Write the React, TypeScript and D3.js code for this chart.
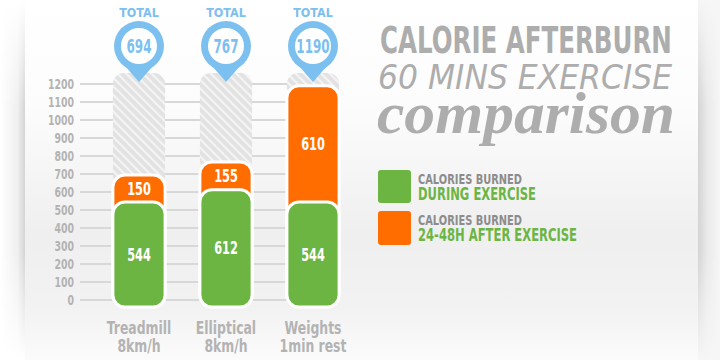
import React from "react";
import * as d3 from "d3";

const categories = ["Treadmill", "Elliptical", "Weights"];
const categorySub = ["8km/h", "8km/h", "1min rest"];
const duringValues = [544, 612, 544];
const afterValues = [150, 155, 610];
const totalValues = [694, 767, 1190];
const yTicks = [0, 100, 200, 300, 400, 500, 600, 700, 800, 900, 1000, 1100, 1200];

const BOLD_FONT = "'DejaVu Sans', sans-serif";
const GREEN = "#6cb543";
const ORANGE = "#ff6d00";
const BLUE = "#7cc0f0";
const GRAY_TXT = "#b3b3b3";

function roundedRect(x: number, y: number, w: number, h: number, r: number) {
  const p = d3.path();
  p.moveTo(x + r, y);
  p.lineTo(x + w - r, y);
  p.arcTo(x + w, y, x + w, y + r, r);
  p.lineTo(x + w, y + h - r);
  p.arcTo(x + w, y + h, x + w - r, y + h, r);
  p.lineTo(x + r, y + h);
  p.arcTo(x, y + h, x, y + h - r, r);
  p.lineTo(x, y + r);
  p.arcTo(x, y, x + r, y, r);
  p.closePath();
  return p.toString();
}

type NProps = {
  x: number;
  y: number;
  size: number;
  fill: string;
  anchor?: "start" | "middle" | "end";
  sx?: number;
  children: React.ReactNode;
};

function NText({ x, y, size, fill, anchor = "middle", sx = 0.66, children }: NProps) {
  return (
    <g transform={`translate(${x},${y}) scale(${sx},1)`}>
      <text
        x={0}
        y={0}
        textAnchor={anchor}
        fontFamily={BOLD_FONT}
        fontWeight="bold"
        fontSize={size}
        fill={fill}
      >
        {children}
      </text>
    </g>
  );
}

export default function App() {
  const W = 720;
  const H = 360;
  const y = d3.scaleLinear().domain([0, 1200]).range([300, 84]);
  const x = d3
    .scaleBand<string>()
    .domain(categories)
    .range([95.5, 356.5])
    .paddingInner(0.4)
    .paddingOuter(0.2);
  const bw = x.bandwidth();
  const barBottom = y(0) + 7;
  const hatchTop = y(1200) - 11;

  return (
    <svg
      width={W}
      height={H}
      viewBox={`0 0 ${W} ${H}`}
      style={{ position: "absolute", left: 0, top: 0, display: "block" }}
    >
      <defs>
        <linearGradient id="panelBg" x1="0" y1="0" x2="0" y2="1">
          <stop offset="0" stopColor="#ffffff" />
          <stop offset="0.3" stopColor="#fcfcfc" />
          <stop offset="0.65" stopColor="#efefef" />
          <stop offset="0.85" stopColor="#f2f2f2" />
          <stop offset="1" stopColor="#fbfbfb" />
        </linearGradient>
        <linearGradient id="leftShadow" x1="0" y1="0" x2="1" y2="0">
          <stop offset="0" stopColor="#000" stopOpacity="0" />
          <stop offset="0.7" stopColor="#000" stopOpacity="0.06" />
          <stop offset="1" stopColor="#000" stopOpacity="0.17" />
        </linearGradient>
        <linearGradient id="rightShadow" x1="0" y1="0" x2="1" y2="0">
          <stop offset="0" stopColor="#000" stopOpacity="0.14" />
          <stop offset="0.4" stopColor="#000" stopOpacity="0.05" />
          <stop offset="1" stopColor="#000" stopOpacity="0" />
        </linearGradient>
        <linearGradient id="vFade" x1="0" y1="0" x2="0" y2="1">
          <stop offset="0" stopColor="#fff" stopOpacity="0" />
          <stop offset="0.3" stopColor="#fff" stopOpacity="1" />
          <stop offset="0.7" stopColor="#fff" stopOpacity="1" />
          <stop offset="1" stopColor="#fff" stopOpacity="0" />
        </linearGradient>
        <mask id="fadeMask" maskUnits="userSpaceOnUse" x="0" y="0" width={W} height={H}>
          <rect x="0" y="0" width={W} height={H} fill="url(#vFade)" />
        </mask>
        <pattern
          id="hatch"
          patternUnits="userSpaceOnUse"
          width="6"
          height="6"
          patternTransform="rotate(-45)"
        >
          <rect x="0" y="0" width="6" height="6" fill="#e2e2e2" />
          <rect x="0" y="0" width="2.2" height="6" fill="#f4f4f4" />
        </pattern>
      </defs>

      {/* background */}
      <rect x="0" y="0" width={W} height={H} fill="#ffffff" />
      <rect x="698" y="0" width="22" height={H} fill="#f6f6f6" />
      <g mask="url(#fadeMask)">
        <rect x="0" y="0" width="25" height={H} fill="url(#leftShadow)" />
        <rect x="698" y="0" width="22" height={H} fill="url(#rightShadow)" />
      </g>
      <rect x="25" y="0" width="673" height={H} fill="url(#panelBg)" />

      {/* gridlines */}
      {yTicks.map((t) => (
        <line
          key={"g" + t}
          x1={80}
          x2={(x(categories[2]) as number) + bw / 2}
          y1={y(t)}
          y2={y(t)}
          stroke="#d8d8d8"
          strokeWidth={2}
        />
      ))}
      {yTicks.map((t) => (
        <NText key={"t" + t} x={74} y={y(t) + 5} size={14} fill={GRAY_TXT} anchor="end" sx={0.67}>
          {t}
        </NText>
      ))}

      {categories.map((c, i) => {
        const x0 = x(c) as number;
        const cx = x0 + bw / 2;
        const yTot = y(totalValues[i]);
        const yDur = y(duringValues[i]);
        const pinCy = 46;
        const pinR = 25;
        const tipY = 82;
        return (
          <g key={c}>
            <path
              d={roundedRect(x0, hatchTop, bw, barBottom - hatchTop, 11)}
              fill="url(#hatch)"
            />
            <path
              d={roundedRect(x0, yTot, bw, barBottom - yTot, 12)}
              fill={ORANGE}
              stroke="#ffffff"
              strokeWidth={3}
            />
            <path
              d={roundedRect(x0, yDur, bw, barBottom - yDur, 12)}
              fill={GREEN}
              stroke="#ffffff"
              strokeWidth={3}
            />
            <NText x={cx} y={(yTot + yDur) / 2 + 6} size={17} fill="#ffffff" sx={0.67}>
              {afterValues[i]}
            </NText>
            <NText x={cx} y={(yDur + barBottom) / 2 + 6} size={17} fill="#ffffff" sx={0.67}>
              {duringValues[i]}
            </NText>

            {/* pin */}
            <path
              d={`M${cx - 14},${pinCy + 20} L${cx + 14},${pinCy + 20} L${cx},${tipY} Z`}
              fill={BLUE}
            />
            <circle cx={cx} cy={pinCy} r={pinR} fill={BLUE} />
            <circle cx={cx} cy={pinCy} r={18} fill="#ffffff" />
            <NText x={cx} y={pinCy + 7} size={19} fill={BLUE} sx={0.63}>
              {totalValues[i]}
            </NText>
            <NText x={cx} y={17} size={13} fill={BLUE} sx={0.86}>
              TOTAL
            </NText>

            <NText x={cx} y={334} size={17} fill={GRAY_TXT} sx={0.73}>
              {c}
            </NText>
            <NText x={cx} y={352} size={17} fill={GRAY_TXT} sx={0.73}>
              {categorySub[i]}
            </NText>
          </g>
        );
      })}

      {/* title */}
      <g transform="translate(380,53) scale(0.64,1)">
        <text
          x={0}
          y={0}
          fontFamily={BOLD_FONT}
          fontWeight="bold"
          fontSize={38}
          textLength={456}
          lengthAdjust="spacingAndGlyphs"
          fill="#adadad"
        >
          CALORIE AFTERBURN
        </text>
      </g>
      <text
        x={378}
        y={89}
        fontFamily="'DejaVu Sans', sans-serif"
        fontStyle="italic"
        fontWeight={200}
        fontSize={33}
        textLength={294}
        lengthAdjust="spacingAndGlyphs"
        fill="#adadad"
      >
        60 MINS EXERCISE
      </text>
      <text
        x={377}
        y={133}
        fontFamily="'Liberation Serif', 'DejaVu Serif', serif"
        fontWeight="bold"
        fontStyle="italic"
        fontSize={60}
        textLength={298}
        lengthAdjust="spacingAndGlyphs"
        fill="#adadad"
      >
        comparison
      </text>

      {/* legend */}
      <rect x={378} y={170} width={33} height={33} rx={3} fill={GREEN} />
      <rect x={378} y={211} width={33} height={34} rx={3} fill={ORANGE} />
      <text
        x={418}
        y={184}
        fontFamily={BOLD_FONT}
        fontWeight="bold"
        fontSize={14}
        textLength={104}
        lengthAdjust="spacingAndGlyphs"
        fill="#8c8c8c"
      >
        CALORIES BURNED
      </text>
      <text
        x={418}
        y={200}
        fontFamily={BOLD_FONT}
        fontWeight="bold"
        fontSize={17}
        textLength={118}
        lengthAdjust="spacingAndGlyphs"
        fill={GREEN}
      >
        DURING EXERCISE
      </text>
      <text
        x={418}
        y={225}
        fontFamily={BOLD_FONT}
        fontWeight="bold"
        fontSize={14}
        textLength={104}
        lengthAdjust="spacingAndGlyphs"
        fill="#8c8c8c"
      >
        CALORIES BURNED
      </text>
      <text
        x={418}
        y={241}
        fontFamily={BOLD_FONT}
        fontWeight="bold"
        fontSize={17}
        textLength={159}
        lengthAdjust="spacingAndGlyphs"
        fill={GREEN}
      >
        24-48H AFTER EXERCISE
      </text>
    </svg>
  );
}
